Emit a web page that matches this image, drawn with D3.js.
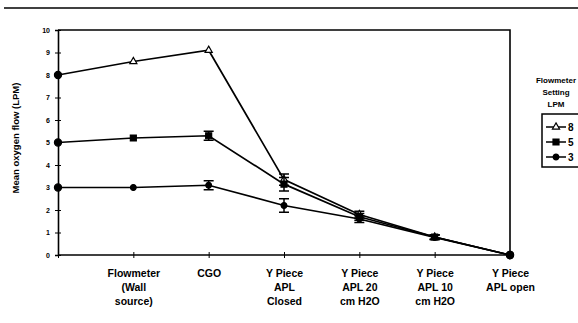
<html>
<head>
  <meta charset="utf-8">
  <script src="https://d3js.org/d3.v7.min.js"></script>
  <style>
    body { margin: 0; background: #fff; }
    text { font-family: "Liberation Sans", Arial, sans-serif; font-weight: bold; fill: #000; }
  </style>
</head>
<body>
<script>
// categories along the x axis (first one carries no label in the original)
var categories = ["", "Flowmeter|(Wall|source)", "CGO", "Y Piece|APL|Closed",
                  "Y Piece|APL 20|cm H2O", "Y Piece|APL 10|cm H2O", "Y Piece|APL open"];
var yTicks = [0, 1, 2, 3, 4, 5, 6, 7, 8, 9, 10];

// mean oxygen flow per flowmeter setting
var flow8 = [8, 8.6, 9.1, 3.35, 1.8, 0.8, 0];
var flow5 = [5, 5.2, 5.3, 3.15, 1.7, 0.8, 0];
var flow3 = [3, 3.0, 3.1, 2.2, 1.6, 0.78, 0];

// error bar half widths (0 = none drawn)
var err8 = [0, 0, 0, 0.25, 0.15, 0.1, 0];
var err5 = [0, 0, 0.2, 0.3, 0.15, 0.1, 0];
var err3 = [0, 0, 0.2, 0.3, 0.15, 0.1, 0];

var legendTitle = ["Flowmeter", "Setting", "LPM"];
var seriesNames = ["8", "5", "3"];

var W = 578, H = 323;
var svg = d3.select("body").append("svg").attr("width", W).attr("height", H);

var x = d3.scalePoint().domain(categories).range([58, 510]);
var y = d3.scaleLinear().domain([0, 10]).range([255, 30]);

// scan line at the top of the page
svg.append("line").attr("x1", 4).attr("x2", W).attr("y1", 8).attr("y2", 8)
  .style("stroke", "#000").style("stroke-width", 1.6);

// plot frame (top and right)
svg.append("path")
  .attr("d", "M" + x.range()[0] + "," + y(10) + "H" + x.range()[1] + "V" + y(0))
  .style("fill", "none").style("stroke", "#000").style("stroke-width", 1.6);

// y axis
var yAxis = svg.append("g").attr("transform", "translate(" + x.range()[0] + ",0)")
  .call(d3.axisLeft(y).tickValues(yTicks).tickSize(3).tickPadding(5));
yAxis.select(".domain").style("stroke-width", 1.6);
yAxis.selectAll(".tick line").attr("x1", 3).attr("x2", -3);
yAxis.selectAll(".tick text").style("font-size", "7px")
  .style("font-family", "'Liberation Sans', Arial, sans-serif").style("font-weight", "bold");

// x axis
var xAxis = svg.append("g").attr("transform", "translate(0," + y(0) + ")")
  .call(d3.axisBottom(x).tickSize(3).tickFormat(""));
xAxis.select(".domain").attr("d", "M" + x.range()[0] + ",0H" + x.range()[1])
  .style("stroke-width", 1.6);
xAxis.selectAll(".tick line").attr("y1", -3).attr("y2", 3);

xAxis.selectAll(".tick").append("text")
  .attr("text-anchor", "middle")
  .style("font-size", "10.5px")
  .each(function(d) {
    var t = d3.select(this);
    d.split("|").forEach(function(s, i) {
      t.append("tspan").attr("x", 0).attr("y", 22 + i * 14).text(s);
    });
  });

// y axis title
svg.append("text")
  .attr("transform", "translate(19,138) rotate(-90)")
  .attr("text-anchor", "middle")
  .style("font-size", "9.5px")
  .text("Mean oxygen flow (LPM)");

var series = [
  { name: seriesNames[0], values: flow8, err: err8, shape: d3.symbolTriangle, size: 22, fill: "#fff" },
  { name: seriesNames[1], values: flow5, err: err5, shape: d3.symbolSquare, size: 36, fill: "#000" },
  { name: seriesNames[2], values: flow3, err: err3, shape: d3.symbolCircle, size: 26, fill: "#000" }
];

var line = d3.line()
  .x(function(d, i) { return x(categories[i]); })
  .y(function(d) { return y(d); });

series.forEach(function(s) {
  var g = svg.append("g");
  g.append("path").datum(s.values).attr("d", line)
    .style("fill", "none").style("stroke", "#000").style("stroke-width", 1.7);

  // error bars
  s.values.forEach(function(v, i) {
    if (!s.err[i]) return;
    var cx = x(categories[i]), y1 = y(v + s.err[i]), y2 = y(v - s.err[i]);
    g.append("path")
      .attr("d", "M" + cx + "," + y1 + "V" + y2 + "M" + (cx - 5) + "," + y1 + "H" + (cx + 5) +
                 "M" + (cx - 5) + "," + y2 + "H" + (cx + 5))
      .style("fill", "none").style("stroke", "#000").style("stroke-width", 1.5);
  });

  g.selectAll(".pt").data(s.values).enter().append("path")
    .attr("transform", function(d, i) { return "translate(" + x(categories[i]) + "," + y(d) + ")"; })
    .attr("d", function(d, i) {
      var first = i === 0 || i === s.values.length - 1;
      return d3.symbol().type(first ? d3.symbolCircle : s.shape).size(first ? 40 : s.size)();
    })
    .style("fill", function(d, i) { return (i === 0 || i === s.values.length - 1) ? "#000" : s.fill; })
    .style("stroke", "#000").style("stroke-width", 1.2);
});

// legend
var lg = svg.append("g");
lg.selectAll(".lt").data(legendTitle).enter().append("text")
  .attr("x", 556).attr("y", function(d, i) { return 83 + i * 12; })
  .attr("text-anchor", "middle").style("font-size", "8px")
  .text(function(d) { return d; });

lg.append("rect").attr("x", 542).attr("y", 114).attr("width", 40).attr("height", 53)
  .style("fill", "none").style("stroke", "#000").style("stroke-width", 1.5);

series.forEach(function(s, i) {
  var ly = 127 + i * 15;
  lg.append("line").attr("x1", 546).attr("x2", 566).attr("y1", ly).attr("y2", ly)
    .style("stroke", "#000").style("stroke-width", 1.5);
  lg.append("path").attr("transform", "translate(556," + ly + ")")
    .attr("d", d3.symbol().type(s.shape).size(s.size)())
    .style("fill", s.fill).style("stroke", "#000").style("stroke-width", 1.2);
  lg.append("text").attr("x", 568).attr("y", ly + 3.5).style("font-size", "10px").text(s.name);
});
</script>
</body>
</html>
